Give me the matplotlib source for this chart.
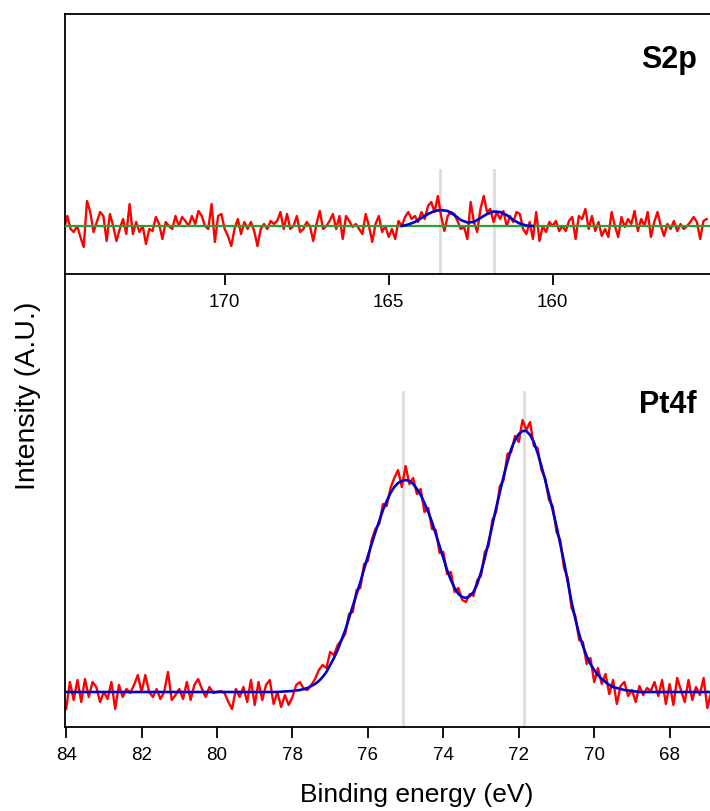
import numpy as np
import matplotlib.pyplot as plt

plt.rcParams['font.family'] = ['Liberation Sans', 'DejaVu Sans']

# ============================================
# Data (intensity in arbitrary units, baseline = 0)
# ============================================
# S2p raw spectrum, 0.1 eV steps starting at 175.0 eV
s2p_start = 175.0
s2p_counts = [
    -3, -3, 10, -3, -6, 0, -11, -21, 25, 14, -6, 4, 14, 10, -15, 12, 0, -15, -3, 7,
    -8, 22, -8, 4, -6, 0, -18, -3, -5, 9, 2, -13, 4, 0, -3, 10, 0, 9, 5, 0,
    10, 2, 15, 10, 0, -3, 22, -16, 10, 12, -3, -10, -20, -3, 7, -8, 4, -3, 4, -5,
    -20, -3, 2, -3, 5, 2,
    5, 14, -3, 12, -3, 0, 10, -6, -3, 4, 0, -15, 2, 15, -3, 0, 5, 12, -3, 10,
    -13, 10, 5, -1, 2, -3, -8, 12, 0, -16, 2, 10, -6, 0, -11, -3, -13, 5, 0, 9,
    14, 7, 10, 4, 14, 7, 20, 24, 14, 30, 10, -5, 10, 14, 12, 5, -3, -1, -13, 24,
    4, -6, 17, 30, 14, 17, 4,
    14, 7, 15, 0, 10, 4, 14, 12, -3, -8, 4, -13, 14, -15, 0, -6, 4, 0, 5, -5,
    0, -5, 5, 9, -13, 10, 7, 17, -3, 10, -5, 4, -10, -3, -11, 14, 0, -11, 9, -1,
    7, 2, 15, -5, 7, 0, 14, -11, 4, 14, 0, -10, 2, -3, 5, -5, 2, -3, 0, 4,
    9, 4, -13, 5, 7,
]
# S2p fitted envelope, 0.2 eV steps starting at 164.6 eV
s2p_fit_start = 164.6
s2p_fit = [0, 1.5, 4, 8, 12, 15, 16, 15, 11, 6, 3.5, 4, 8, 12, 14.5, 14, 11, 6, 2.5, 0.5, 0]
s2p_peaks = [163.43, 161.79]

# Pt4f raw spectrum, 0.1 eV steps starting at 84.0 eV
pt_start = 84.0
pt_counts = [
    -17, 10, -8, 12, -10, 13, -5, 10, 5, -10, 0, -7, 10, -17, 7, -5, 3, -1, 7, 17,
    0, 17, 0, -5, 3, -7, 0, 20, -8, -3, 3, -7, 10, -8, 7, 13, 3, -5, 5, -1,
    0, 1, -1, -10, -17, 3, -5, 5, -10, 12, -13, 10, -8, 7, 12, -12, 0, -15, -3, -13,
    -5, 7, 10, 3, 2, 7,
    13, 22, 27, 24, 40, 37, 47, 52,
    58, 78, 80, 102, 104, 128, 131, 152, 163, 168,
    188, 186, 204, 214, 222, 205, 226, 208, 214, 198,
    203, 180, 184, 163, 162, 139, 140, 118, 120, 100,
    104, 92, 90, 98, 96, 112, 116, 140, 146, 172,
    180, 206, 212, 238, 240, 256, 250, 272, 262, 270,
    246, 244, 222, 214, 192, 186, 160, 152, 124, 114,
    84, 76, 52, 50, 28, 34, 10, 24, 8, 18,
    -2, 12, -12, 6, 10, -4, 2, -10, 6, -3,
    4, 1, 10, -4, 12, -12, 8, -13, 14, 2,
    -10, 12, -8, 5, -3, 14, -16, 0,
]
# Pt4f fitted envelope, 0.1 eV steps starting at 78.4 eV
pt_fit_start = 78.4
pt_fit = [
    0, 0.3, 0.5, 0.8, 1, 1.5, 2, 3, 4, 6,
    8, 11, 15, 20, 27, 34, 42, 52, 62, 74,
    86, 98, 110, 123, 136, 148, 160, 171, 182, 191,
    199, 205, 209, 211, 212, 211, 208, 203, 197, 189,
    180, 170, 158, 146, 134, 122, 112, 104, 98, 95,
    94, 96, 100, 108, 120, 134, 150, 167, 184, 200,
    216, 230, 243, 252, 258, 261, 261, 257, 250, 239,
    226, 212, 197, 182, 166, 148, 130, 110, 90, 73,
    58, 46, 36, 28, 22, 17, 13, 10, 7, 5,
    4, 3, 2, 1.5, 1, 0.5, 0,
]
pt_peaks = [75.08, 71.86]

s2p_ticks = [170, 165, 160]
pt_ticks = [84, 82, 80, 78, 76, 74, 72, 70, 68]

# energy grids
s2p_e = s2p_start - 0.1 * np.arange(len(s2p_counts))
s2p_fit_e = s2p_fit_start - 0.2 * np.arange(len(s2p_fit))
pt_e = pt_start - 0.1 * np.arange(len(pt_counts))
pt_fit_e = pt_fit_start - 0.1 * np.arange(len(pt_fit))

# ============================================
# Figure
# ============================================
fig = plt.figure(figsize=(7.1, 8.12), dpi=100)
ax_top = fig.add_axes([65 / 710, 1 - 275 / 812, 645 / 710, 260 / 812])
ax_bot = fig.add_axes([65 / 710, 1 - 728 / 812, 645 / 710, 453 / 812])

RED = '#ff0000'
BLUE = '#0000cc'
GREEN = '#2e9e2e'
GREY = '#dddddd'

# --- S2p panel
s2p_xlim = (174.87, 155.2)
for p in s2p_peaks:
    ax_top.axvline(p, ymin=0, ymax=0.40, color=GREY, lw=2, zorder=1)
ax_top.plot(s2p_e, s2p_counts, color=RED, lw=1.7, zorder=2)
ax_top.plot(s2p_xlim, [0, 0], color=GREEN, lw=1.6, zorder=3)
ax_top.plot(s2p_fit_e, s2p_fit, color=BLUE, lw=1.9, zorder=4)
ax_top.set_xlim(*s2p_xlim)
ax_top.set_ylim(-48, 212)
ax_top.set_xticks(s2p_ticks)
ax_top.set_yticks([])
ax_top.spines['right'].set_visible(False)

# --- Pt4f panel
pt_xlim = (84.03, 66.93)
fit_e = np.concatenate([[pt_xlim[0]], pt_fit_e, [pt_xlim[1]]])
fit_v = np.concatenate([[0], pt_fit, [0]])
for p in pt_peaks:
    ax_bot.axvline(p, ymin=0, ymax=0.74, color=GREY, lw=2, zorder=1)
ax_bot.plot(pt_e, pt_counts, color=RED, lw=1.7, zorder=2)
ax_bot.plot(fit_e, fit_v, color=BLUE, lw=1.9, zorder=4)
ax_bot.set_xlim(*pt_xlim)
ax_bot.set_ylim(-35, 418)
ax_bot.set_xticks(pt_ticks)
ax_bot.set_yticks([])
ax_bot.spines['right'].set_visible(False)
ax_bot.spines['top'].set_visible(False)
ax_bot.patch.set_alpha(0)

for ax in (ax_top, ax_bot):
    for s in ax.spines.values():
        s.set_linewidth(1.3)
    ax.tick_params(axis='x', direction='out', length=8, width=1.3,
                   labelsize=13.5, pad=6)

# the original figure is cropped on the right, so the label sits off-centre
ax_bot.set_xlabel('Binding energy (eV)', fontsize=19)
ax_bot.xaxis.set_label_coords(0.546, -0.122)
fig.text(28 / 710, 1 - 396 / 812, 'Intensity (A.U.)', rotation=90,
         ha='center', va='center', fontsize=20.5)

fig.text(697 / 710, 1 - 60 / 812, 'S2p', ha='right', va='center',
         fontsize=22, fontweight='bold')
fig.text(697 / 710, 1 - 405 / 812, 'Pt4f', ha='right', va='center',
         fontsize=22, fontweight='bold')

fig.savefig('out.png', dpi=100)
